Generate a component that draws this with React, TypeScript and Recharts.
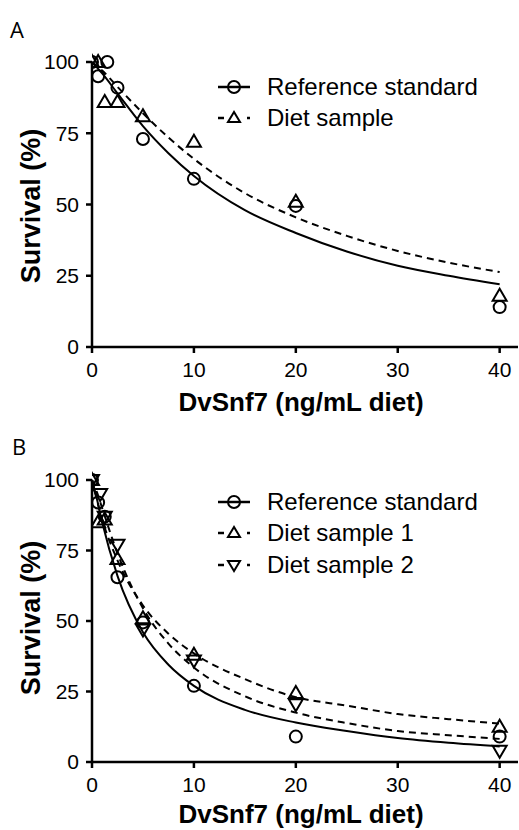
import { ComposedChart, Line, Scatter, XAxis, YAxis } from 'recharts'

const FONT = '"Liberation Sans", Arial, Helvetica, sans-serif'

// x ticks / y ticks shared by both panels
const xTicks = [0, 10, 20, 30, 40]
const yTicks = [0, 25, 50, 75, 100]

// Panel A - measured points
const refAX = [0, 0.6, 1.5, 2.5, 5, 10, 20, 40]
const refAY = [100, 95, 100, 91, 73, 59, 49.5, 14]
const dietAX = [0, 0.6, 1.25, 2.5, 5, 10, 20, 40]
const dietAY = [100, 100, 86, 86, 81, 72, 51, 18]

// Panel A - fitted curves
const fitX = [0, 0.5, 1, 2.5, 5, 7.5, 10, 15, 20, 25, 30, 35, 40]
const refFitA = [100, 98, 96, 89, 77.5, 68, 60, 48, 40, 33.5, 28.5, 25, 22]
const dietFitA = [100, 98.5, 97, 91.3, 82, 73.5, 66, 54, 45.5, 39, 33.7, 29.6, 26.3]

// Panel B - measured points
const refBX = [0, 0.6, 1.25, 2.5, 5, 10, 20, 40]
const refBY = [100, 92, 87, 65.5, 49.5, 27, 9, 9]
const diet1BX = [0, 0.6, 1.25, 2.5, 5, 10, 20, 40]
const diet1BY = [100, 85, 86, 72, 51, 38, 24.5, 12.5]
const diet2BX = [0, 0.8, 1.25, 2.5, 5, 10, 20, 40]
const diet2BY = [100, 95, 87, 77, 47, 36, 20.5, 4]

// Panel B - fitted curves
const refFitB = [100, 93, 85, 66, 46, 34.5, 27, 18.5, 14, 11, 8.5, 6.8, 5.5]
const diet1FitB = [100, 92.6, 86, 71.5, 55.5, 45.5, 38.5, 29.4, 23, 20, 17, 15.2, 13.6]
const diet2FitB = [100, 95.5, 90, 74, 54.5, 42, 33.5, 23.3, 17.5, 13.8, 11, 9.5, 8.2]

const zip = (xs: number[], ys: number[]) => xs.map((x, i) => ({ x, y: ys[i] }))

const CircleDot = (p: any) => (
    <circle cx={p.cx} cy={p.cy} r={6} fill="none" stroke="#000" strokeWidth={2} />
)
const TriUp = (p: any) => (
    <polygon
        points={`${p.cx},${p.cy - 7} ${p.cx - 7},${p.cy + 5} ${p.cx + 7},${p.cy + 5}`}
        fill="none" stroke="#000" strokeWidth={2}
    />
)
const TriDown = (p: any) => (
    <polygon
        points={`${p.cx},${p.cy + 7} ${p.cx - 7},${p.cy - 5} ${p.cx + 7},${p.cy - 5}`}
        fill="none" stroke="#000" strokeWidth={2}
    />
)

const YTitle = ({ viewBox, dy }: any) => {
    const cx = viewBox.x + 31
    const cy = viewBox.y + viewBox.height / 2 + dy
    return (
        <text x={cx} y={cy} transform={`rotate(-90 ${cx} ${cy})`} textAnchor="middle"
            dominantBaseline="central" fontFamily={FONT} fontSize={27} fontWeight="bold" fill="#000">
            Survival (%)
        </text>
    )
}

// title baseline sits ~64px below the x axis line
const XTitle = ({ viewBox, gap }: any) => (
    <text x={viewBox.x + viewBox.width / 2 - 4} y={viewBox.y + gap} textAnchor="middle"
        fontFamily={FONT} fontSize={26} fontWeight="bold" fill="#000">
        DvSnf7 (ng/mL diet)
    </text>
)

const axisProps = {
    axisLine: { stroke: '#000', strokeWidth: 2.5 },
    tickLine: { stroke: '#000', strokeWidth: 2.5 },
    tickSize: 6,
    tick: { fill: '#000', fontSize: 21, fontFamily: FONT },
}

type Sym = 'circle' | 'up' | 'down'

function LegendSym({ kind }: { kind: Sym }) {
    return (
        <svg width={40} height={20} style={{ display: 'block' }}>
            {kind === 'circle' ? (
                <>
                    <line x1={4} y1={10} x2={36} y2={10} stroke="#000" strokeWidth={2.5} />
                    <circle cx={20} cy={10} r={6} fill="none" stroke="#000" strokeWidth={2} />
                </>
            ) : (
                <>
                    <line x1={4} y1={10} x2={10} y2={10} stroke="#000" strokeWidth={2.5} />
                    <line x1={33} y1={10} x2={36} y2={10} stroke="#000" strokeWidth={2.5} />
                    {kind === 'up' ? (
                        <polygon points="20,4 14,14 26,14" fill="none" stroke="#000" strokeWidth={2} />
                    ) : (
                        <polygon points="20,16 14,6 26,6" fill="none" stroke="#000" strokeWidth={2} />
                    )}
                </>
            )}
        </svg>
    )
}

function LegendBox({ items, top }: { items: { label: string; kind: Sym }[]; top: number }) {
    return (
        <div style={{ position: 'absolute', left: 214, top }}>
            {items.map(it => (
                <div key={it.label} style={{ display: 'flex', alignItems: 'center', height: 31.5 }}>
                    <LegendSym kind={it.kind} />
                    <span style={{ marginLeft: 13, fontSize: 24, fontFamily: FONT, color: '#000', lineHeight: '24px' }}>
                        {it.label}
                    </span>
                </div>
            ))}
        </div>
    )
}

function PanelA() {
    return (
        <ComposedChart width={519} height={425} margin={{ top: 62, right: 1, bottom: 14, left: 0 }}>
            <XAxis type="number" dataKey="x" domain={[0, 41.8]} ticks={xTicks} allowDataOverflow
                height={64} tickMargin={9} {...axisProps} label={<XTitle gap={64} />} />
            <YAxis type="number" domain={[0, 100]} ticks={yTicks} width={92} tickMargin={7}
                {...axisProps} label={<YTitle dy={1.5} />} />
            <Line data={zip(fitX, refFitA)} dataKey="y" type="monotone" stroke="#000" strokeWidth={2}
                dot={false} isAnimationActive={false} />
            <Line data={zip(fitX, dietFitA)} dataKey="y" type="monotone" stroke="#000" strokeWidth={2}
                strokeDasharray="7 5" dot={false} isAnimationActive={false} />
            <Scatter data={zip(refAX, refAY)} dataKey="y" shape={CircleDot} isAnimationActive={false} />
            <Scatter data={zip(dietAX, dietAY)} dataKey="y" shape={TriUp} isAnimationActive={false} />
        </ComposedChart>
    )
}

function PanelB() {
    return (
        <ComposedChart width={519} height={425} margin={{ top: 65, right: 1, bottom: 14, left: 0 }}>
            <XAxis type="number" dataKey="x" domain={[0, 41.8]} ticks={xTicks} allowDataOverflow
                height={64} tickMargin={9} {...axisProps} label={<XTitle gap={61} />} />
            <YAxis type="number" domain={[0, 100]} ticks={yTicks} width={92} tickMargin={7}
                {...axisProps} label={<YTitle dy={-3} />} />
            <Line data={zip(fitX, refFitB)} dataKey="y" type="monotone" stroke="#000" strokeWidth={2}
                dot={false} isAnimationActive={false} />
            <Line data={zip(fitX, diet1FitB)} dataKey="y" type="monotone" stroke="#000" strokeWidth={2}
                strokeDasharray="7 5" dot={false} isAnimationActive={false} />
            <Line data={zip(fitX, diet2FitB)} dataKey="y" type="monotone" stroke="#000" strokeWidth={2}
                strokeDasharray="7 5" dot={false} isAnimationActive={false} />
            <Scatter data={zip(refBX, refBY)} dataKey="y" shape={CircleDot} isAnimationActive={false} />
            <Scatter data={zip(diet1BX, diet1BY)} dataKey="y" shape={TriUp} isAnimationActive={false} />
            <Scatter data={zip(diet2BX, diet2BY)} dataKey="y" shape={TriDown} isAnimationActive={false} />
        </ComposedChart>
    )
}

export default function App() {
    return (
        <div style={{ position: 'absolute', left: 0, top: 0, width: 519, height: 830, overflow: 'hidden', background: '#fff', fontFamily: FONT }}>
            <div style={{ position: 'absolute', left: 10, top: 14, fontFamily: '"Open Sans", sans-serif', fontSize: 22 }}>A</div>
            <div style={{ position: 'absolute', left: 12, top: 431, fontFamily: '"Open Sans", sans-serif', fontSize: 22 }}>B</div>
            <div style={{ position: 'absolute', left: 0, top: 0 }}>
                <PanelA />
            </div>
            <div style={{ position: 'absolute', left: 0, top: 415 }}>
                <PanelB />
            </div>
            <LegendBox top={71} items={[
                { label: 'Reference standard', kind: 'circle' },
                { label: 'Diet sample', kind: 'up' },
            ]} />
            <LegendBox top={486} items={[
                { label: 'Reference standard', kind: 'circle' },
                { label: 'Diet sample 1', kind: 'up' },
                { label: 'Diet sample 2', kind: 'down' },
            ]} />
        </div>
    )
}
